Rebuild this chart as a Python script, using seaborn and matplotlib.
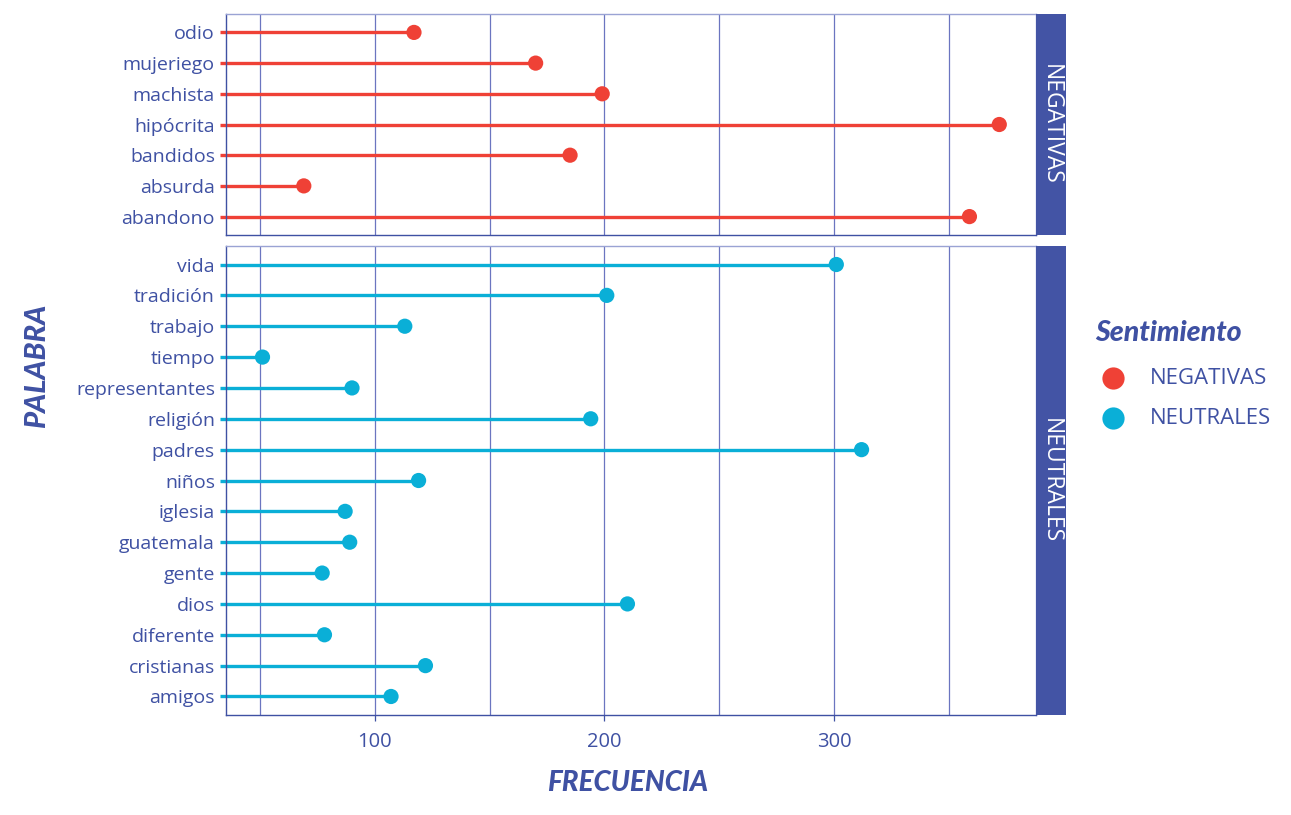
import matplotlib
matplotlib.use("Agg")
import matplotlib.pyplot as plt
import seaborn as sns
import pandas as pd
import numpy as np
from matplotlib.lines import Line2D

# ---------------- data ----------------
neg_words = ["odio", "mujeriego", "machista", "hipócrita", "bandidos", "absurda", "abandono"]
neg_freq = [117, 170, 199, 372, 185, 69, 359]

neu_words = ["vida", "tradición", "trabajo", "tiempo", "representantes", "religión", "padres",
             "niños", "iglesia", "guatemala", "gente", "dios", "diferente", "cristianas", "amigos"]
neu_freq = [301, 201, 113, 51, 90, 194, 312, 119, 87, 89, 77, 210, 78, 122, 107]

groups = ["NEGATIVAS", "NEUTRALES"]
x_ticks = [100, 200, 300]
x_grid = [50, 100, 150, 200, 250, 300, 350]

RED = "#EF4136"
CYAN = "#0AAFD7"
BLUE = "#3F51A3"
STRIP = "#4354A5"
GRID = "#6B75C0"
LIGHT = "#9AA3D4"

sns.set_theme(style="white")
plt.rcParams["font.family"] = ["Open Sans", "DejaVu Sans"]
TITLE_FONT = ["Lato", "DejaVu Sans"]

W, H = 1291, 815
fig = plt.figure(figsize=(W / 100, H / 100), dpi=100)

def fx(px):
    return px / W

def fy(py):
    return 1 - py / H

x0, x1 = 226, 1036
xmin = 35.1
xmax = 388.0

panels = [
    (neg_words, neg_freq, RED, groups[0], 14, 235),
    (neu_words, neu_freq, CYAN, groups[1], 246, 715),
]

axes = []
for words, freq, col, grp, top, bot in panels:
    ax = fig.add_axes([fx(x0), fy(bot), fx(x1 - x0), (bot - top) / H])
    axes.append(ax)
    df = pd.DataFrame({"palabra": words, "frecuencia": freq, "pos": np.arange(len(words)),
                       "sentimiento": grp})
    for g in x_grid:
        ax.axvline(g, color=GRID, lw=0.9, zorder=0)
    ax.hlines(df["pos"], xmin - 2.6, df["frecuencia"], color=col, lw=2.4, zorder=2, clip_on=False)
    sns.scatterplot(data=df, x="frecuencia", y="pos", color=col, s=120, edgecolor="none",
                    ax=ax, zorder=3, legend=False, clip_on=False)
    ax.set_xlim(xmin, xmax)
    n = len(words)
    ax.set_ylim(n - 1 + 0.6, -0.6)
    ax.set_yticks(df["pos"])
    ax.set_yticklabels(words, va="bottom")
    ax.tick_params(axis="y", length=0, pad=8, labelsize=14, labelcolor=BLUE)
    for t in ax.get_yticklabels():
        t.set_verticalalignment("center_baseline")
    ax.set_xlabel("")
    ax.set_ylabel("")
    for s in ["left", "bottom"]:
        ax.spines[s].set_color(BLUE)
        ax.spines[s].set_linewidth(1.0)
    for s in ["top", "right"]:
        ax.spines[s].set_color(LIGHT)
        ax.spines[s].set_linewidth(1.0)
    # strip
    sax = fig.add_axes([fx(x1), fy(bot), fx(1066 - x1), (bot - top) / H])
    sax.set_facecolor(STRIP)
    sax.set_xticks([])
    sax.set_yticks([])
    for s in sax.spines.values():
        s.set_visible(False)
    sax.text(0.5, 0.5, grp, rotation=-90, color="white", ha="center", va="center",
             fontsize=16.5, transform=sax.transAxes)

axes[0].set_xticks([])
axes[1].set_xticks(x_ticks)
axes[1].set_xticklabels([str(t) for t in x_ticks])
axes[1].tick_params(axis="x", length=4, width=0.9, color=BLUE, labelsize=14.5, labelcolor=BLUE,
                    pad=8, bottom=True)

fig.text(fx(37), fy(366), "PALABRA", rotation=90, ha="center", va="center", color=BLUE,
         fontsize=21, fontweight="black", fontstyle="italic", family=TITLE_FONT)
fig.text(fx(628), fy(783), "FRECUENCIA", ha="center", va="center", color=BLUE,
         fontsize=20, fontweight="black", fontstyle="italic", family=TITLE_FONT)

# legend
fig.text(fx(1095), fy(333), "Sentimiento", ha="left", va="center", color=BLUE,
         fontsize=20.5, fontweight="black", fontstyle="italic", family=TITLE_FONT)
for lab, col, py in [(groups[0], RED, 378), (groups[1], CYAN, 418)]:
    fig.add_artist(Line2D([fx(1113)], [fy(py)], marker="o", markersize=16, color=col,
                          markeredgewidth=0, transform=fig.transFigure))
    fig.text(fx(1150), fy(py), lab, ha="left", va="center", color=BLUE, fontsize=16)

fig.savefig("out.png", dpi=100, facecolor="white")
